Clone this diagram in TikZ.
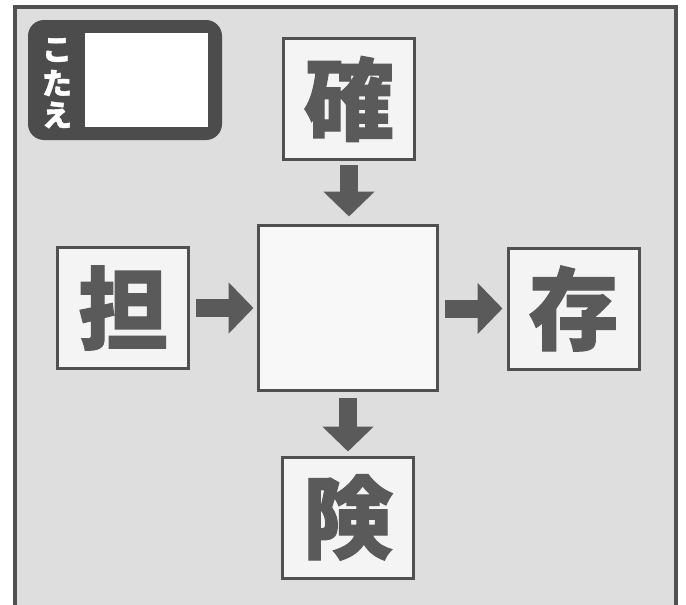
\documentclass[tikz,border=0pt]{standalone}
\usepackage{fontspec}
\newfontfamily\cjk{Noto Sans CJK JP}[BoldFeatures={FakeBold=1.2}]
\usetikzlibrary{arrows.meta}
\definecolor{panelgray}{HTML}{DEDEDE}
\definecolor{boxfill}{HTML}{F4F4F4}
\definecolor{edgegray}{HTML}{505050}
\definecolor{inkgray}{HTML}{5A5A5A}
\definecolor{tagdark}{HTML}{4C4C4C}
\tikzset{
  kanjibox/.style={draw=edgegray, line width=3pt, fill=boxfill, inner sep=0pt,
    minimum width=131pt, minimum height=121pt, text=inkgray,
    font=\cjk\bfseries\fontsize{90}{90}\selectfont},
  centerbox/.style={draw=edgegray, line width=3pt, fill=boxfill!60!white, inner sep=0pt,
    minimum width=179pt, minimum height=165pt},
  flowarrow/.style={draw=inkgray, line width=18pt,
    -{Triangle[width=50pt,length=25pt]}},
  tagtext/.style={text=white, font=\cjk\bfseries\fontsize{30}{30}\selectfont, inner sep=0pt}
}
\begin{document}
\begin{tikzpicture}[x=1pt,y=-1pt]
\clip (0,0) rectangle (686,605);
\fill[white] (0,0) rectangle (686,605);
% panel
\draw[edgegray, line width=4pt, fill=panelgray] (15,6.5) rectangle (676,620);
% answer tag
\node[fill=tagdark, rounded corners=16pt, minimum width=194pt, minimum height=120pt, inner sep=0pt] (tag) at (125,80) {};
\node[fill=white, minimum width=123pt, minimum height=94pt, inner sep=0pt] (ansbox) at (146.5,80) {};
\node[tagtext] (ko) at (57,50) {こ};
\node[tagtext] (ta) at (57,83) {た};
\node[tagtext] (e) at (57,115) {え};
% boxes
\node[kanjibox] (top) at (349,99) {確};
\node[centerbox] (mid) at (347.5,307.5) {};
\node[kanjibox] (left) at (123,308) {担};
\node[kanjibox] (right) at (573.5,308.5) {存};
\node[kanjibox] (bottom) at (348,517.5) {険};
% arrows
\draw[flowarrow, shorten <=4pt, shorten >=7pt] (top.south) -- (top.south |- mid.north);
\draw[flowarrow, shorten <=6pt, shorten >=3pt] (left.east) -- (left.east -| mid.west);
\draw[flowarrow, shorten <=6pt, shorten >=4pt] (mid.east |- right.west) -- (right.west);
\draw[flowarrow, shorten <=6pt, shorten >=4pt] (mid.south -| bottom.north) -- (bottom.north);
\end{tikzpicture}
\end{document}
